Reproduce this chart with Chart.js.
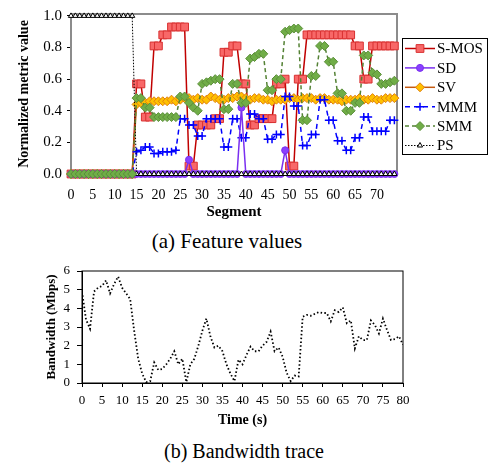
<!DOCTYPE html>
<html>
<head>
<meta charset="utf-8">
<script src="https://cdn.jsdelivr.net/npm/chart.js@4.4.1/dist/chart.umd.min.js"></script>
<style>
  body { margin: 0; background: #fff; width: 488px; height: 466px; position: relative; overflow: hidden; }
  #feature-chart { position: absolute; left: 0; top: 0; }
  #bw-chart { position: absolute; left: 0; top: 255px; }
  .caption { position: absolute; text-align: center; font-family: "Liberation Serif", serif; font-size: 20px; color: #000; }
</style>
</head>
<body>
<canvas id="feature-chart" width="488" height="225"></canvas>
<div class="caption" style="top:229px; left:-17px; width:488px; font-size:21px">(a) Feature values</div>
<canvas id="bw-chart" width="488" height="180"></canvas>
<div class="caption" style="top:440px; left:0; width:488px">(b) Bandwidth trace</div>
<script>
// ---- data: (a) feature values per segment ----
const segments = Array.from({ length: 75 }, (_, i) => i);
const segmentTicks = [0, 5, 10, 15, 20, 25, 30, 35, 40, 45, 50, 55, 60, 65, 70];
const metricTicks = [0, 0.2, 0.4, 0.6, 0.8, 1.0];

const sMos = [0, 0, 0, 0, 0, 0, 0, 0, 0, 0, 0, 0, 0, 0, 0,
  0.57, 0.57, 0.36, 0.36, 0.81, 0.81, 0.88, 0.88, 0.93, 0.93, 0.93, 0.93, 0.05, 0.05, 0.31,
  0.31, 0.31, 0.31, 0.35, 0.35, 0.77, 0.77, 0.81, 0.81, 0.57, 0.57, 0.31, 0.31, 0.35, 0.35,
  0.35, 0.35, 0.57, 0.57, 0.60, 0.05, 0.05, 0.60, 0.60, 0.88, 0.88, 0.88, 0.88, 0.88, 0.88,
  0.88, 0.88, 0.88, 0.88, 0.88, 0.81, 0.81, 0.60, 0.60, 0.81, 0.81, 0.81, 0.81, 0.81, 0.81];
const sd = [0, 0, 0, 0, 0, 0, 0, 0, 0, 0, 0, 0, 0, 0, 0,
  0, 0, 0, 0, 0, 0, 0, 0, 0, 0, 0, 0, 0.09, 0, 0,
  0, 0, 0, 0, 0, 0, 0, 0, 0, 0.42, 0, 0, 0, 0, 0,
  0, 0, 0, 0, 0.15, 0, 0, 0, 0, 0, 0, 0, 0, 0, 0,
  0, 0, 0, 0, 0, 0, 0, 0, 0, 0, 0, 0, 0, 0, 0];
const sv = [0, 0, 0, 0, 0, 0, 0, 0, 0, 0, 0, 0, 0, 0, 0,
  0.44, 0.45, 0.45, 0.46, 0.46, 0.46, 0.46, 0.46, 0.47, 0.46, 0.47, 0.48, 0.48, 0.47, 0.48,
  0.47, 0.47, 0.49, 0.48, 0.47, 0.47, 0.48, 0.48, 0.49, 0.49, 0.48, 0.47, 0.48, 0.48, 0.47,
  0.47, 0.46, 0.47, 0.47, 0.47, 0.48, 0.48, 0.47, 0.48, 0.48, 0.48, 0.47, 0.48, 0.48, 0.47,
  0.47, 0.47, 0.46, 0.47, 0.47, 0.47, 0.48, 0.47, 0.47, 0.48, 0.47, 0.47, 0.48, 0.48, 0.48];
const mmm = [0, 0, 0, 0, 0, 0, 0, 0, 0, 0, 0, 0, 0, 0, 0,
  0.14, 0.15, 0.17, 0.17, 0.13, 0.13, 0.14, 0.14, 0.14, 0.15, 0.35, 0.35, 0.31, 0.31, 0.24,
  0.24, 0.35, 0.35, 0.35, 0.35, 0.17, 0.17, 0.35, 0.35, 0.23, 0.23, 0.38, 0.38, 0.35, 0.35,
  0.22, 0.22, 0.25, 0.25, 0.49, 0.49, 0.43, 0.43, 0.18, 0.18, 0.25, 0.25, 0.47, 0.47, 0.34,
  0.34, 0.21, 0.21, 0.15, 0.15, 0.23, 0.23, 0.36, 0.36, 0.27, 0.27, 0.27, 0.27, 0.34, 0.34];
const smm = [0, 0, 0, 0, 0, 0, 0, 0, 0, 0, 0, 0, 0, 0, 0,
  0.48, 0.48, 0.42, 0.42, 0.36, 0.36, 0.36, 0.36, 0.36, 0.36, 0.49, 0.49, 0.45, 0.42, 0.40,
  0.57, 0.58, 0.59, 0.60, 0.60, 0.41, 0.41, 0.57, 0.57, 0.45, 0.45, 0.73, 0.74, 0.76, 0.76,
  0.53, 0.53, 0.60, 0.60, 0.90, 0.91, 0.92, 0.92, 0.34, 0.34, 0.62, 0.62, 0.81, 0.81, 0.71,
  0.71, 0.51, 0.51, 0.40, 0.40, 0.45, 0.45, 0.75, 0.75, 0.64, 0.63, 0.57, 0.57, 0.58, 0.59];
const ps = [1, 1, 1, 1, 1, 1, 1, 1, 1, 1, 1, 1, 1, 1, 1,
  0, 0, 0, 0, 0, 0, 0, 0, 0, 0, 0, 0, 0, 0, 0,
  0, 0, 0, 0, 0, 0, 0, 0, 0, 0, 0, 0, 0, 0, 0,
  0, 0, 0, 0, 0, 0, 0, 0, 0, 0, 0, 0, 0, 0, 0,
  0, 0, 0, 0, 0, 0, 0, 0, 0, 0, 0, 0, 0, 0, 0];

// ---- data: (b) bandwidth trace ----
const timeTicks = [0, 5, 10, 15, 20, 25, 30, 35, 40, 45, 50, 55, 60, 65, 70, 75, 80];
const bwTicks = [0, 1, 2, 3, 4, 5, 6];
const seconds = Array.from({ length: 81 }, (_, i) => i);
const bandwidth = [4.9, 3.4, 2.9, 4.9, 5.1, 5.2, 5.5, 4.8, 5.3, 5.7,
  5.1, 4.8, 4.5, 2.8, 1.3, 0.5, 0.05, 0.1, 1.1, 0.7,
  0.75, 1.0, 1.3, 1.7, 1.0, 1.3, 0.05, 1.0, 1.3, 2.0,
  2.8, 3.45, 2.5, 1.9, 2.0, 1.7, 1.0, 0.5, 0.1, 1.25,
  1.0, 1.5, 1.95, 1.7, 1.7, 2.0, 2.2, 2.75, 1.7, 1.9,
  1.4, 0.55, 0.1, 0.4, 0.35, 3.55, 3.65, 3.6, 3.7, 3.8,
  3.75, 3.75, 3.3, 3.9, 3.8, 4.05, 3.2, 3.35, 1.85, 2.5,
  2.3, 2.3, 3.35, 3.1, 2.65, 3.45, 2.85, 2.3, 2.35, 2.5, 2.05];

const serif = '"Liberation Serif", "Times New Roman", serif';
const pts = arr => arr.map((v, i) => ({ x: segments[i], y: v }));

// frame around the plot area
const framePlugin = {
  id: 'frame',
  beforeDatasetsDraw(chart, args, opts) {
    const a = chart.chartArea;
    const ctx = chart.ctx;
    ctx.save();
    ctx.strokeStyle = opts.color;
    ctx.lineWidth = opts.width;
    ctx.strokeRect(a.left, a.top, a.right - a.left, a.bottom - a.top);
    ctx.restore();
  }
};

// boxed legend to the right of plot (a)
const legendBox = {
  id: 'legendBox',
  afterDraw(chart) {
    const ctx = chart.ctx;
    ctx.save();
    ctx.fillStyle = '#fff';
    ctx.fillRect(402, 38, 86, 117);
    ctx.strokeStyle = '#000';
    ctx.lineWidth = 1;
    ctx.setLineDash([]);
    ctx.strokeRect(402.5, 38.5, 85, 116);
    chart.data.datasets.forEach((ds, i) => {
      const y = 48.5 + i * 19.4;
      ctx.strokeStyle = ds.borderColor;
      ctx.lineWidth = ds.borderWidth;
      ctx.setLineDash(ds.borderDash || []);
      ctx.beginPath();
      ctx.moveTo(405, y);
      ctx.lineTo(435, y);
      ctx.stroke();
      ctx.setLineDash([]);
      ctx.fillStyle = ds.pointBackgroundColor;
      ctx.strokeStyle = ds.pointBorderColor;
      ctx.lineWidth = ds.pointBorderWidth;
      Chart.helpers.drawPoint(ctx, { pointStyle: ds.pointStyle, radius: ds.pointRadius, rotation: 0, borderWidth: ds.pointBorderWidth }, 420, y);
      ctx.fillStyle = '#000';
      ctx.font = '15px ' + serif;
      ctx.textBaseline = 'middle';
      ctx.fillText(ds.label, 437, y + 1);
    });
    ctx.restore();
  }
};

const featureChart = new Chart(document.getElementById('feature-chart'), {
  type: 'line',
  data: {
    datasets: [
      { label: 'S-MOS', data: pts(sMos), borderColor: '#C00000', borderWidth: 1.5,
        pointStyle: 'rect', pointRadius: 5.5, pointBackgroundColor: '#F86868', pointBorderColor: '#D83030', pointBorderWidth: 1, order: 6 },
      { label: 'SD', data: pts(sd), borderColor: '#7A2FF0', borderWidth: 1.5,
        pointStyle: 'circle', pointRadius: 3.5, pointBackgroundColor: '#8A40FF', pointBorderColor: '#7A2FF0', pointBorderWidth: 1, order: 3 },
      { label: 'SV', data: pts(sv), borderColor: '#C55A11', borderWidth: 1.5,
        pointStyle: 'rectRot', pointRadius: 4.5, pointBackgroundColor: '#FFC000', pointBorderColor: '#E08010', pointBorderWidth: 1, order: 5 },
      { label: 'MMM', data: pts(mmm), borderColor: '#0000FF', borderWidth: 1.5, borderDash: [5, 4],
        pointStyle: 'cross', pointRadius: 4, pointBackgroundColor: '#0000FF', pointBorderColor: '#0000FF', pointBorderWidth: 1.5, order: 4 },
      { label: 'SMM', data: pts(smm), borderColor: '#548235', borderWidth: 1.5, borderDash: [4, 3],
        pointStyle: 'rectRot', pointRadius: 4.5, pointBackgroundColor: '#70AD47', pointBorderColor: '#5B8F3A', pointBorderWidth: 1, order: 1 },
      { label: 'PS', data: pts(ps), borderColor: '#000', borderWidth: 1, borderDash: [1.5, 1.5],
        pointStyle: 'triangle', pointRadius: 3, pointBackgroundColor: '#fff', pointBorderColor: '#000', pointBorderWidth: 1, order: 2 }
    ]
  },
  options: {
    responsive: false,
    animation: false,
    devicePixelRatio: 1,
    clip: false,
    layout: { padding: { left: 0, right: 91, top: 10, bottom: 0 } },
    plugins: {
      legend: { display: false },
      tooltip: { enabled: false },
      frame: { color: '#8c8c8c', width: 2 }
    },
    scales: {
      x: {
        type: 'linear', min: 0, max: 74.6,
        afterBuildTicks: s => { s.ticks = segmentTicks.map(v => ({ value: v })); },
        afterFit: s => { s.height = 51; },
        grid: { display: false, drawTicks: false },
        border: { display: true, color: '#000', width: 1 },
        ticks: { color: '#000', padding: 13, autoSkip: false, maxRotation: 0, font: { family: serif, size: 14 } },
        title: { display: true, text: 'Segment', color: '#000', padding: { top: 0, bottom: 4 }, font: { family: serif, size: 15, weight: 'bold' } }
      },
      y: {
        min: 0, max: 1.012,
        afterBuildTicks: s => { s.ticks = metricTicks.map(v => ({ value: v })); },
        afterFit: s => { s.width = 71; },
        grid: { drawOnChartArea: false, drawTicks: true, tickLength: 4, color: '#000' },
        border: { display: true, color: '#000', width: 1 },
        ticks: { color: '#000', padding: 5, callback: v => v.toFixed(1), font: { family: serif, size: 15 } },
        title: { display: true, text: 'Normalized metric value', color: '#000', padding: { top: 16, bottom: 0 }, font: { family: serif, size: 14, weight: 'bold' } }
      }
    }
  },
  plugins: [framePlugin, legendBox]
});

const bwChart = new Chart(document.getElementById('bw-chart'), {
  type: 'line',
  data: {
    datasets: [{
      label: 'Bandwidth',
      data: bandwidth.map((v, i) => ({ x: seconds[i], y: v })),
      borderColor: '#000', borderWidth: 1.8, borderDash: [1.5, 2.3], pointRadius: 0, tension: 0
    }]
  },
  options: {
    responsive: false,
    animation: false,
    devicePixelRatio: 1,
    layout: { padding: { left: 0, right: 85, top: 16, bottom: 0 } },
    plugins: {
      legend: { display: false },
      tooltip: { enabled: false },
      frame: { color: '#000', width: 1 }
    },
    scales: {
      x: {
        type: 'linear', min: 0, max: 80,
        afterBuildTicks: s => { s.ticks = timeTicks.map(v => ({ value: v })); },
        afterFit: s => { s.height = 52; },
        grid: { drawOnChartArea: false, drawTicks: true, tickLength: 4, color: '#000' },
        border: { display: true, color: '#000', width: 1 },
        ticks: { color: '#000', padding: 6, autoSkip: false, maxRotation: 0, font: { family: serif, size: 13 } },
        title: { display: true, text: 'Time (s)', color: '#000', padding: { top: 0, bottom: 6 }, font: { family: serif, size: 14, weight: 'bold' } }
      },
      y: {
        min: 0, max: 6,
        afterBuildTicks: s => { s.ticks = bwTicks.map(v => ({ value: v })); },
        afterFit: s => { s.width = 82; },
        grid: { drawOnChartArea: false, drawTicks: true, tickLength: 5, color: '#000' },
        border: { display: true, color: '#000', width: 1 },
        ticks: { color: '#000', padding: 7, font: { family: serif, size: 13 } },
        title: { display: true, text: 'Bandwidth (Mbps)', color: '#000', padding: { top: 44, bottom: 0 }, font: { family: serif, size: 13, weight: 'bold' } }
      }
    }
  },
  plugins: [framePlugin]
});
</script>
</body>
</html>
